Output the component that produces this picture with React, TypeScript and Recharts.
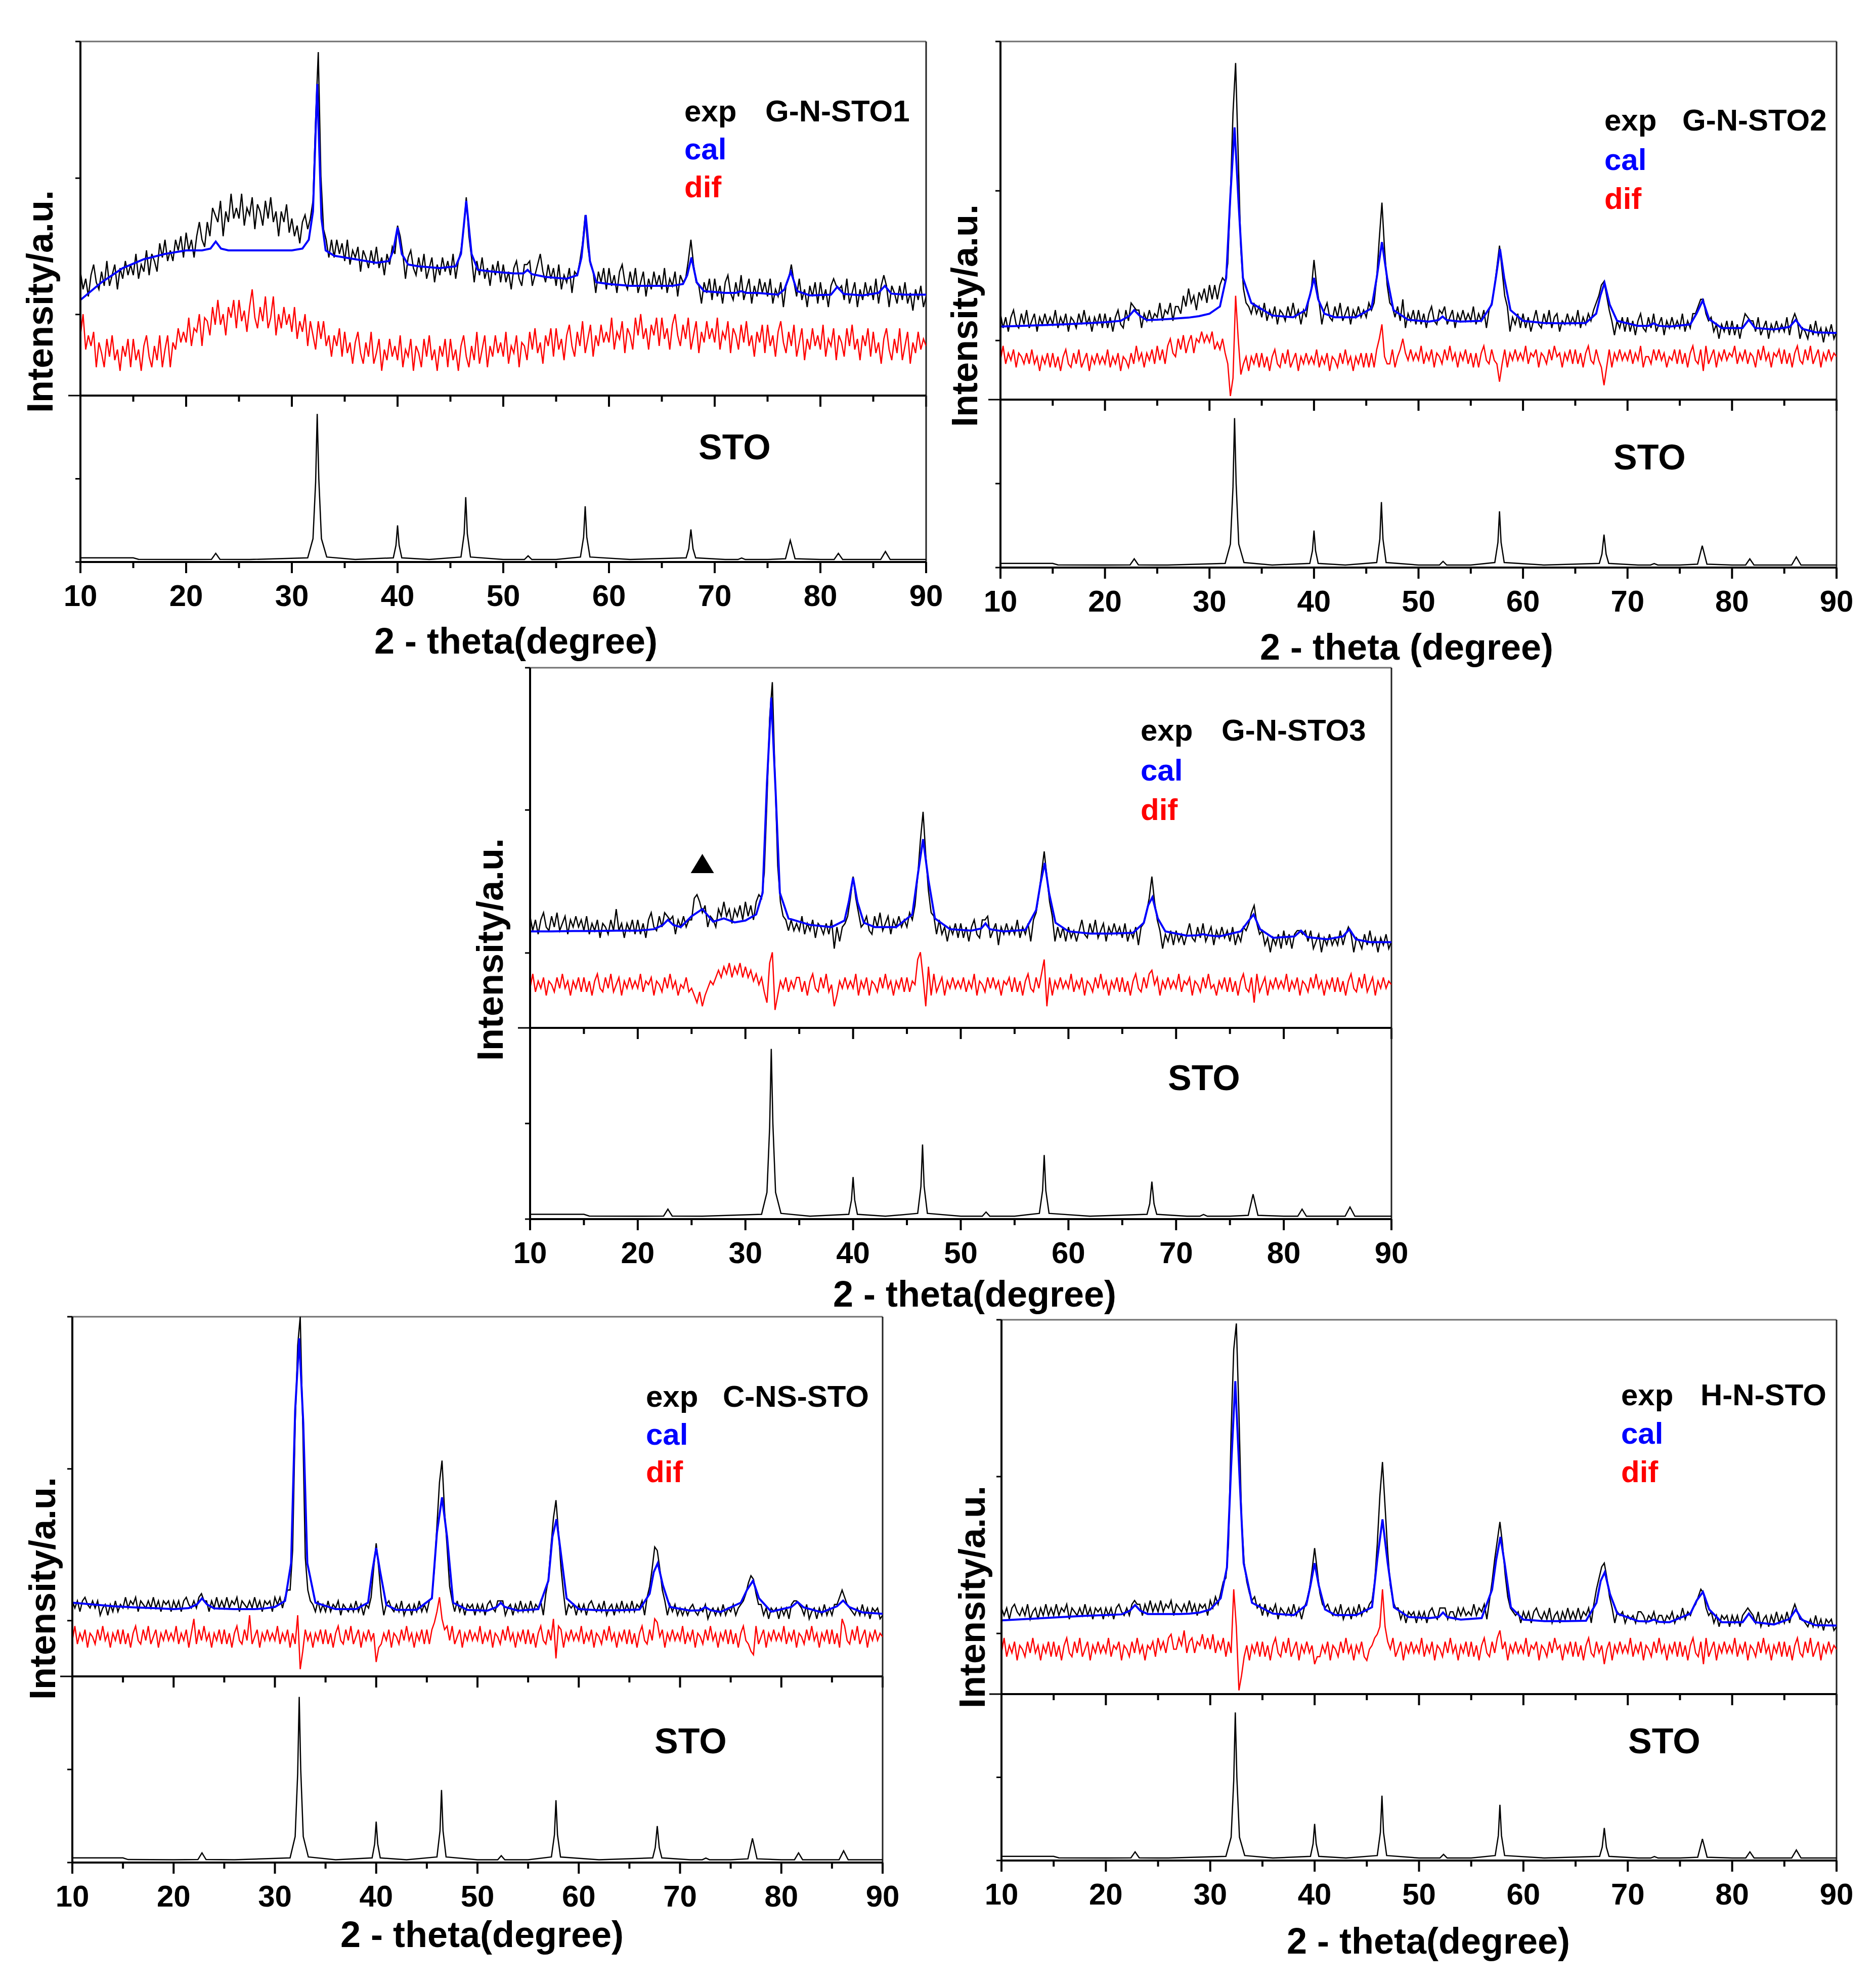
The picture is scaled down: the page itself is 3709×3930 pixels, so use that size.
import React from 'react';
import { LineChart, Line, XAxis, YAxis, ReferenceLine, ReferenceDot } from 'recharts';

const FONT = '"Liberation Sans", Arial, Helvetica, sans-serif';
const BLUE = '#0000ff';
const RED = '#ff0000';

// 2-theta nodes of the measured patterns (exp / dif): 10..90 in 0.25 deg steps
const THETA = Array.from({ length: 321 }, (_, i) => 10 + i * 0.25);

// 2-theta nodes of the calculated (Rietveld) profiles
const CAL_THETA = [
  10, 12, 14, 16, 18, 20,
  21.5, 22.3, 22.8, 23.3, 24,
  25, 26, 27, 28, 29, 30, 31,
  31.6, 32.0, 32.4, 32.8, 33.2,
  34, 36, 38,
  39.2, 39.6, 40.0, 40.4, 41,
  42, 44,
  45.5, 46.0, 46.5, 47.0, 47.6,
  49, 51,
  51.9, 52.3, 52.7,
  54, 56,
  57.0, 57.4, 57.8, 58.2, 58.8,
  60, 62, 64, 66,
  67.0, 67.4, 67.8, 68.3, 69,
  71, 72.0, 72.5, 73.0, 74,
  76, 76.6, 77.2, 77.8, 79,
  81, 81.6, 82.2,
  84, 85.5, 86.1, 86.7,
  88, 90,
];

// SrTiO3 reference pattern
const STO_THETA = [
  10, 15, 15.5, 20, 22.4, 22.8, 23.2, 26,
  31.5, 32.0, 32.25, 32.4, 32.55, 32.8, 33.3, 36,
  39.6, 39.85, 40.0, 40.15, 40.4, 43,
  46.0, 46.3, 46.45, 46.6, 46.9, 50,
  52.0, 52.35, 52.7, 55,
  57.3, 57.6, 57.75, 57.9, 58.2, 62,
  67.3, 67.55, 67.75, 67.95, 68.2, 71,
  72.2, 72.55, 72.9, 75,
  76.7, 77.15, 77.6, 80,
  81.3, 81.7, 82.1, 84,
  85.7, 86.15, 86.6, 90,
];
const STO_I = [
  2.5, 2.5, 1.6, 1.5, 1.6, 5.2, 1.6, 1.5,
  2.5, 14, 48, 89, 50, 14, 3, 1.5,
  2.5, 10, 22, 10, 2.5, 1.5,
  3, 17, 39, 17, 3, 1.5,
  1.5, 3.7, 1.5, 1.5,
  3, 15, 33.5, 15, 3, 1.5,
  2.5, 8, 19.6, 8, 2.5, 1.5,
  1.5, 2.4, 1.5, 1.5,
  2, 13, 2, 1.5,
  1.5, 5.2, 1.5, 1.5,
  1.5, 6.3, 1.5, 1.5,
];

// ---- G-N-STO1 ----
const G1_EXP = [
  35, 30, 33, 28, 34, 37, 32, 30, 35, 31, 38, 31, 34, 37, 30, 36, 33, 38, 34, 37,
  34, 40, 33, 37, 35, 41, 34, 40, 38, 35, 43, 39, 44, 38, 41, 38, 44, 41, 45, 39,
  46, 41, 44, 39, 45, 49, 44, 42, 49, 45, 53, 51, 49, 55, 45, 52, 49, 57, 50, 53,
  50, 57, 48, 53, 51, 56, 47, 54, 52, 48, 55, 50, 56, 49, 52, 45, 52, 49, 54, 46,
  50, 45, 48, 43, 49, 51, 47, 50, 55, 78, 97, 62, 47, 44, 39, 44, 39, 44, 40, 43,
  38, 44, 37, 41, 39, 42, 35, 41, 39, 36, 41, 37, 42, 36, 39, 34, 40, 37, 42, 40,
  48, 45, 40, 33, 39, 41, 36, 34, 39, 35, 40, 33, 36, 39, 32, 37, 34, 39, 35, 38,
  34, 40, 33, 38, 41, 47, 56, 45, 39, 32, 38, 34, 39, 33, 36, 31, 37, 34, 38, 32,
  37, 32, 35, 30, 36, 38, 33, 31, 37, 37, 38, 31, 34, 37, 40, 35, 32, 37, 33, 36,
  31, 37, 30, 34, 32, 36, 29, 35, 34, 38, 43, 51, 42, 37, 35, 29, 35, 32, 36, 30,
  36, 31, 34, 29, 35, 37, 32, 30, 35, 31, 36, 29, 32, 35, 28, 33, 30, 35, 31, 34,
  30, 36, 29, 33, 31, 35, 28, 34, 32, 33, 38, 44, 37, 32, 31, 26, 32, 29, 33, 27,
  33, 28, 31, 26, 32, 34, 29, 27, 32, 28, 34, 27, 30, 33, 26, 31, 28, 33, 29, 32,
  28, 33, 26, 30, 28, 32, 25, 31, 33, 37, 32, 28, 33, 27, 30, 25, 31, 28, 32, 26,
  32, 27, 30, 25, 31, 33, 31, 30, 31, 27, 33, 26, 29, 32, 25, 30, 27, 32, 28, 31,
  27, 33, 26, 31, 34, 31, 25, 31, 29, 26, 31, 27, 32, 26, 29, 24, 30, 27, 31, 25,
  28,
];
const G1_CAL = [
  27, 32, 36, 38.5, 40, 41,
  41, 41.5, 43.5, 41.5, 41,
  41, 41, 41, 41, 41, 41, 41.5,
  44, 52, 88, 50, 41,
  39.5, 38.5, 37.5,
  38, 41, 47.5, 40, 37,
  36.5, 36,
  36.5, 40, 55, 40, 35.5,
  35, 34.5,
  34.5, 35.5, 34.3,
  33.5, 33,
  34, 39, 51, 38, 32,
  31.5, 31, 31, 31,
  31.5, 34, 39, 32, 29.5,
  29, 29, 29.5, 29, 29,
  28.5, 30, 35, 29.5, 28.3,
  28.5, 30.7, 28.7,
  28.3, 29, 31, 28.8,
  28.5, 28.5,
];
const G1_DIF = [
  17, 23, 13, 17, 14, 18, 8, 15, 12, 8, 16, 11, 17, 10, 13, 7, 14, 11, 16, 8,
  16, 10, 13, 7, 14, 17, 11, 8, 14, 10, 17, 8, 13, 17, 8, 15, 13, 19, 15, 18,
  15, 22, 14, 19, 18, 23, 14, 22, 21, 17, 25, 20, 27, 20, 23, 17, 25, 22, 27, 19,
  27, 21, 24, 18, 25, 30, 22, 19, 25, 21, 28, 19, 22, 28, 17, 23, 19, 25, 20, 23,
  18, 25, 16, 21, 18, 23, 14, 21, 17, 13, 21, 16, 21, 14, 17, 11, 17, 14, 19, 11,
  18, 12, 15, 9, 15, 18, 12, 9, 15, 11, 18, 9, 12, 16, 7, 13, 10, 16, 11, 14,
  10, 17, 8, 13, 11, 16, 7, 14, 12, 8, 16, 11, 17, 10, 13, 7, 14, 11, 16, 8,
  16, 10, 13, 7, 14, 17, 11, 8, 14, 10, 18, 9, 13, 17, 8, 14, 11, 17, 12, 15,
  11, 18, 9, 14, 12, 17, 8, 15, 14, 10, 18, 13, 19, 12, 15, 9, 17, 14, 19, 11,
  19, 13, 16, 10, 17, 20, 14, 11, 18, 14, 21, 12, 16, 20, 11, 17, 14, 20, 15, 18,
  15, 22, 13, 18, 16, 21, 12, 19, 17, 13, 22, 17, 23, 16, 19, 13, 20, 17, 22, 14,
  22, 16, 19, 13, 20, 23, 17, 14, 20, 16, 22, 13, 17, 21, 12, 18, 15, 21, 16, 19,
  15, 22, 13, 18, 16, 21, 12, 19, 17, 13, 20, 15, 21, 14, 17, 11, 18, 15, 20, 12,
  20, 14, 17, 11, 18, 21, 15, 12, 18, 14, 20, 11, 15, 19, 10, 16, 13, 19, 14, 17,
  13, 20, 11, 16, 14, 19, 10, 17, 15, 11, 19, 14, 20, 13, 16, 10, 17, 14, 19, 11,
  18, 12, 15, 9, 16, 19, 13, 10, 16, 12, 19, 10, 14, 18, 9, 15, 12, 18, 13, 16,
  14,
];

// ---- G-N-STO2 ----
const G2_EXP = [
  24, 20, 23, 19, 23, 25, 21, 20, 24, 21, 25, 20, 22, 24, 19, 23, 21, 24, 21, 23,
  21, 25, 20, 23, 21, 24, 19, 23, 22, 20, 24, 21, 25, 21, 23, 19, 23, 21, 24, 20,
  24, 20, 23, 19, 23, 25, 21, 20, 25, 22, 27, 26, 25, 25, 20, 24, 22, 25, 22, 24,
  23, 27, 22, 25, 24, 27, 22, 26, 26, 24, 29, 26, 31, 27, 29, 25, 30, 28, 31, 27,
  32, 28, 32, 28, 32, 34, 33, 38, 57, 80, 94, 68, 42, 31, 27, 26, 24, 27, 24, 26,
  23, 27, 22, 25, 23, 26, 21, 25, 24, 22, 26, 23, 27, 23, 25, 21, 25, 23, 28, 31,
  39, 32, 27, 21, 25, 27, 23, 22, 26, 23, 27, 22, 24, 26, 21, 25, 23, 26, 23, 25,
  23, 27, 25, 27, 34, 45, 55, 42, 32, 27, 26, 23, 26, 22, 28, 20, 24, 22, 25, 21,
  25, 21, 24, 20, 24, 26, 22, 21, 25, 24, 26, 21, 23, 25, 20, 24, 22, 25, 22, 24,
  22, 26, 21, 24, 22, 25, 20, 25, 27, 31, 37, 43, 36, 29, 26, 19, 23, 21, 24, 20,
  24, 20, 23, 19, 22, 25, 21, 20, 24, 21, 25, 20, 23, 24, 19, 22, 21, 24, 21, 23,
  21, 25, 20, 23, 21, 24, 22, 25, 27, 29, 32, 33, 29, 25, 22, 18, 22, 20, 23, 19,
  23, 19, 22, 18, 22, 24, 20, 19, 23, 20, 24, 19, 21, 23, 18, 22, 20, 23, 20, 22,
  20, 24, 19, 22, 20, 24, 24, 26, 28, 28, 24, 22, 23, 19, 21, 17, 21, 19, 22, 18,
  22, 18, 21, 17, 21, 24, 23, 22, 22, 19, 23, 18, 20, 22, 17, 21, 19, 22, 19, 21,
  19, 23, 18, 22, 24, 22, 17, 20, 19, 17, 21, 18, 22, 18, 20, 16, 20, 18, 21, 17,
  19,
];
const G2_CAL = [
  20.4, 20.6, 20.8, 21, 21.3, 21.6,
  22, 23.3, 25, 23.5, 22.2,
  22.3, 22.5, 22.7, 22.9, 23.3, 24, 26,
  34, 57, 76, 54, 34,
  27, 23.5, 23,
  25, 29, 34, 28, 24,
  23, 23,
  25.5, 34, 44, 34, 25,
  22.3, 21.8,
  22.2, 23.2, 22.2,
  21.8, 22,
  26.5, 34, 42, 34, 25,
  22, 21.4, 21.3, 21.4,
  24, 29, 32.6, 26.5, 22,
  20.6, 20.6, 21.3, 20.6, 20.4,
  21, 24, 27.7, 22.5, 20,
  20, 22.3, 20,
  19.6, 20.3, 22.3, 19.8,
  18.8, 18.6,
];
const G2_DIF = [
  11, 15, 10, 13, 11, 14, 9, 13, 12, 10, 13, 10, 14, 10, 12, 8, 12, 10, 13, 9,
  13, 9, 12, 8, 12, 14, 10, 9, 13, 10, 14, 9, 11, 13, 8, 12, 10, 13, 10, 12,
  10, 14, 9, 12, 10, 13, 8, 12, 11, 9, 13, 10, 15, 11, 13, 9, 13, 11, 14, 10,
  15, 11, 14, 10, 15, 17, 13, 12, 17, 14, 18, 13, 16, 18, 13, 17, 16, 19, 16, 18,
  16, 19, 14, 16, 14, 17, 13, 10, 1, 6, 29, 17, 7, 10, 12, 8, 12, 10, 13, 9,
  13, 9, 12, 8, 12, 14, 10, 9, 13, 10, 14, 9, 11, 13, 8, 12, 10, 13, 10, 12,
  10, 14, 9, 12, 10, 13, 8, 12, 11, 9, 13, 10, 14, 10, 12, 8, 12, 10, 13, 9,
  13, 9, 13, 9, 14, 17, 21, 12, 10, 10, 14, 9, 12, 14, 17, 13, 11, 14, 11, 13,
  11, 15, 10, 13, 11, 14, 9, 13, 12, 10, 14, 11, 15, 11, 13, 9, 13, 11, 14, 10,
  13, 9, 13, 9, 13, 15, 11, 10, 14, 11, 10, 5, 10, 14, 9, 13, 11, 14, 11, 13,
  11, 15, 10, 13, 12, 14, 9, 13, 12, 10, 14, 11, 15, 12, 13, 9, 13, 11, 14, 10,
  14, 10, 13, 9, 13, 15, 11, 10, 14, 11, 9, 4, 9, 14, 9, 13, 11, 14, 11, 13,
  11, 14, 10, 13, 11, 15, 9, 12, 12, 10, 14, 11, 14, 11, 13, 9, 12, 11, 14, 10,
  14, 10, 13, 9, 13, 15, 11, 10, 14, 8, 15, 10, 12, 14, 9, 13, 11, 14, 11, 13,
  12, 15, 10, 13, 11, 14, 10, 13, 12, 9, 14, 11, 15, 11, 13, 9, 13, 12, 14, 10,
  14, 10, 13, 9, 13, 15, 11, 10, 14, 11, 15, 10, 12, 14, 9, 13, 11, 14, 11, 13,
  12,
];

// ---- G-N-STO3 ----
const G3_EXP = [
  31, 27, 30, 26, 30, 32, 28, 27, 31, 28, 32, 27, 29, 31, 26, 30, 28, 31, 28, 30,
  27, 31, 26, 29, 27, 30, 25, 29, 28, 26, 30, 27, 33, 27, 29, 25, 29, 27, 30, 26,
  30, 26, 29, 25, 30, 32, 28, 27, 31, 28, 32, 31, 30, 31, 26, 30, 28, 31, 28, 30,
  30, 36, 37, 35, 32, 34, 28, 31, 30, 28, 33, 31, 35, 31, 33, 29, 33, 31, 34, 30,
  35, 31, 34, 30, 35, 37, 36, 43, 63, 86, 96, 70, 45, 35, 31, 30, 27, 30, 27, 29,
  27, 31, 26, 29, 27, 30, 25, 29, 28, 26, 29, 26, 30, 22, 28, 24, 28, 29, 31, 36,
  42, 36, 32, 28, 29, 31, 27, 26, 31, 28, 32, 27, 29, 31, 26, 30, 28, 31, 28, 30,
  28, 32, 30, 34, 42, 52, 60, 48, 38, 32, 31, 26, 30, 26, 28, 24, 28, 26, 29, 25,
  29, 25, 28, 24, 28, 30, 26, 25, 30, 30, 31, 25, 27, 29, 23, 28, 26, 29, 26, 28,
  26, 30, 25, 28, 26, 29, 24, 30, 32, 37, 43, 49, 42, 35, 31, 24, 28, 25, 28, 24,
  28, 25, 27, 24, 27, 30, 26, 25, 29, 26, 30, 25, 27, 29, 24, 28, 26, 29, 26, 28,
  25, 29, 24, 27, 25, 28, 23, 28, 29, 32, 36, 42, 35, 30, 27, 22, 26, 24, 27, 23,
  27, 24, 26, 23, 26, 29, 25, 24, 28, 25, 29, 24, 26, 28, 23, 27, 25, 28, 25, 27,
  24, 28, 23, 26, 24, 28, 27, 29, 32, 34, 29, 26, 27, 23, 25, 21, 25, 23, 26, 22,
  27, 23, 26, 22, 26, 27, 27, 26, 27, 24, 27, 22, 24, 26, 21, 25, 23, 26, 23, 25,
  23, 27, 23, 26, 28, 26, 21, 25, 24, 22, 26, 23, 27, 23, 25, 21, 25, 23, 26, 22,
  24,
];
const G3_CAL = [
  26.8, 26.8, 26.9, 26.9, 27, 27,
  27.4, 28.5, 30, 28.6, 28,
  31, 33, 29.5, 30.4, 29.3, 29.8, 31.5,
  37.5, 68, 91.7, 66, 37.5,
  30.4, 28.6, 28,
  29.8, 35, 41.7, 35, 29.2,
  28, 28,
  31.5, 42.3, 52.4, 41, 30.4,
  27.4, 27,
  27.6, 29, 27.4,
  26.8, 27.2,
  32.7, 40, 45.8, 37.5, 29.2,
  26.8, 26.2, 26.2, 26.4,
  29.2, 34, 36.3, 30.4, 26.8,
  25.6, 25.7, 26, 25.7, 25.4,
  26.8, 29.2, 31.5, 27.4, 25,
  25.4, 27, 25.2,
  24.6, 25.4, 27.4, 24.6,
  23.8, 23.8,
];
const G3_DIF = [
  11, 15, 10, 13, 11, 14, 9, 13, 12, 10, 14, 11, 15, 11, 13, 9, 13, 11, 14, 10,
  14, 10, 13, 9, 13, 15, 11, 10, 14, 11, 15, 10, 12, 14, 9, 13, 11, 14, 11, 13,
  11, 15, 10, 13, 12, 14, 9, 13, 12, 10, 14, 11, 15, 11, 13, 9, 12, 11, 14, 10,
  11, 9, 7, 10, 6, 9, 11, 13, 12, 14, 16, 14, 17, 15, 18, 14, 17, 15, 18, 14,
  17, 14, 16, 13, 15, 12, 14, 10, 7, 18, 21, 5, 9, 13, 11, 14, 10, 13, 11, 14,
  14, 10, 13, 9, 13, 15, 11, 10, 14, 11, 15, 10, 12, 6, 9, 13, 11, 14, 11, 13,
  11, 15, 9, 13, 11, 14, 9, 13, 12, 10, 14, 11, 15, 11, 13, 9, 13, 11, 14, 10,
  14, 10, 13, 12, 19, 21, 14, 6, 17, 9, 15, 10, 12, 14, 9, 13, 11, 14, 11, 13,
  11, 14, 10, 13, 11, 15, 9, 13, 12, 10, 14, 11, 14, 11, 13, 9, 13, 12, 14, 10,
  14, 10, 13, 9, 13, 15, 11, 10, 14, 11, 15, 19, 6, 14, 9, 13, 11, 14, 11, 13,
  11, 15, 10, 13, 11, 14, 9, 13, 12, 10, 14, 11, 15, 11, 13, 9, 13, 11, 14, 10,
  14, 10, 13, 9, 13, 15, 11, 10, 14, 11, 15, 16, 12, 14, 9, 13, 11, 14, 11, 13,
  11, 15, 10, 13, 12, 14, 9, 13, 12, 10, 14, 11, 15, 11, 12, 9, 13, 11, 14, 10,
  14, 10, 13, 9, 13, 15, 11, 10, 14, 7, 15, 10, 12, 14, 9, 13, 11, 14, 11, 13,
  11, 15, 10, 13, 11, 14, 9, 13, 12, 10, 14, 11, 15, 11, 13, 9, 13, 11, 14, 10,
  14, 10, 13, 9, 13, 15, 11, 10, 14, 11, 15, 10, 12, 14, 9, 13, 11, 14, 11, 13,
  12,
];
// impurity reflection marked with a triangle
const G3_MARK = { t: 26, v: 45.5 };

// ---- C-NS-STO ----
const C_EXP = [
  21, 19, 21, 18, 21, 22, 20, 19, 21, 19, 21, 17, 19, 20, 17, 20, 18, 21, 18, 20,
  19, 22, 19, 21, 20, 22, 18, 21, 20, 19, 21, 19, 22, 19, 21, 18, 21, 20, 21, 18,
  21, 19, 21, 18, 21, 22, 20, 19, 21, 19, 22, 23, 21, 21, 18, 21, 19, 22, 19, 21,
  19, 22, 19, 21, 20, 22, 18, 21, 20, 19, 21, 19, 22, 19, 21, 18, 21, 20, 21, 18,
  22, 20, 22, 19, 22, 24, 24, 35, 70, 92, 100, 70, 33, 24, 21, 20, 18, 21, 18, 20,
  18, 21, 18, 20, 19, 21, 17, 20, 19, 18, 20, 18, 21, 18, 20, 17, 20, 19, 22, 30,
  37, 30, 22, 17, 20, 21, 19, 18, 20, 18, 21, 17, 19, 20, 17, 20, 18, 21, 18, 20,
  18, 21, 22, 30, 42, 54, 60, 46, 36, 25, 21, 18, 21, 18, 20, 17, 20, 19, 20, 17,
  20, 18, 20, 17, 20, 21, 19, 18, 21, 21, 21, 17, 19, 20, 17, 20, 18, 21, 18, 20,
  18, 21, 18, 20, 19, 21, 17, 23, 27, 36, 44, 49, 40, 30, 23, 17, 20, 19, 20, 17,
  20, 18, 20, 17, 20, 21, 19, 18, 20, 18, 21, 17, 19, 20, 17, 20, 18, 21, 18, 20,
  18, 21, 18, 20, 19, 21, 17, 22, 25, 30, 36, 35, 30, 24, 21, 17, 20, 18, 20, 17,
  19, 17, 19, 17, 19, 20, 18, 17, 19, 18, 20, 16, 18, 19, 17, 19, 17, 20, 17, 19,
  18, 20, 17, 19, 20, 21, 23, 26, 28, 27, 23, 20, 20, 17, 19, 16, 19, 18, 19, 16,
  19, 17, 19, 16, 20, 21, 21, 20, 19, 17, 20, 16, 18, 19, 16, 19, 17, 20, 17, 19,
  17, 20, 20, 22, 24, 22, 20, 19, 18, 17, 19, 17, 20, 17, 19, 16, 19, 18, 19, 16,
  17,
];
const C_CAL = [
  20.5, 20, 19.5, 19.2, 19, 18.7,
  19, 20, 21.7, 20, 18.9,
  18.8, 18.7, 18.7, 18.7, 18.9, 19.3, 21,
  31.5, 74, 94, 70.5, 31.5,
  20.5, 18.7, 18.7,
  20.5, 29, 35.7, 29, 19.9,
  18.5, 18.5,
  21.7, 40, 49.8, 38.8, 20.5,
  18.5, 18.3,
  19.3, 20.5, 19.3,
  18.3, 18.7,
  26.6, 38.8, 43.7, 35, 21.7,
  18.7, 18.4, 18.4, 18.6,
  23, 29, 31.5, 25.4, 19.3,
  18.3, 18.4, 19.3, 18.4, 17.9,
  20.5, 24, 26.6, 21.7, 18,
  19.3, 20.7, 19.2,
  17.8, 19.5, 21.1, 19.3,
  17.8, 17.4,
];
const C_DIF = [
  10, 14, 9, 12, 10, 13, 8, 12, 11, 9, 13, 10, 14, 10, 12, 8, 12, 10, 13, 9,
  13, 9, 12, 8, 12, 14, 10, 9, 13, 10, 14, 9, 11, 13, 8, 12, 10, 13, 10, 12,
  10, 14, 9, 12, 10, 13, 8, 12, 16, 9, 13, 10, 14, 10, 12, 8, 12, 10, 13, 9,
  13, 9, 12, 8, 12, 14, 10, 9, 13, 10, 17, 9, 11, 13, 8, 12, 10, 13, 10, 12,
  10, 14, 9, 12, 10, 13, 8, 12, 9, 17, 2, 7, 13, 10, 12, 8, 12, 10, 13, 9,
  13, 9, 12, 8, 12, 14, 10, 9, 13, 10, 14, 9, 11, 13, 8, 12, 10, 13, 10, 12,
  4, 8, 9, 12, 10, 13, 8, 12, 11, 9, 13, 10, 14, 10, 12, 8, 12, 10, 13, 9,
  13, 9, 13, 15, 18, 22, 16, 13, 14, 10, 14, 9, 11, 13, 8, 12, 10, 13, 10, 12,
  10, 14, 9, 12, 10, 13, 8, 12, 11, 9, 13, 10, 14, 10, 12, 8, 12, 10, 13, 9,
  13, 9, 12, 8, 12, 14, 10, 9, 13, 10, 16, 5, 14, 13, 8, 12, 10, 13, 10, 12,
  10, 14, 9, 12, 10, 13, 8, 12, 11, 9, 13, 10, 14, 10, 12, 8, 12, 10, 13, 9,
  13, 9, 12, 8, 12, 14, 10, 9, 13, 10, 16, 15, 11, 13, 8, 12, 10, 13, 10, 12,
  10, 14, 9, 12, 10, 13, 8, 12, 11, 9, 13, 10, 14, 10, 12, 8, 12, 10, 13, 9,
  13, 9, 12, 8, 12, 14, 10, 9, 7, 6, 14, 9, 11, 13, 8, 12, 10, 13, 10, 12,
  10, 14, 9, 12, 10, 13, 8, 12, 11, 9, 13, 10, 14, 10, 12, 8, 12, 10, 13, 9,
  13, 9, 12, 8, 16, 14, 10, 9, 13, 10, 14, 9, 11, 13, 8, 12, 10, 13, 10, 12,
  11,
];

// ---- H-N-STO ----
const H_EXP = [
  23, 21, 23, 20, 23, 24, 22, 21, 23, 21, 24, 20, 22, 23, 20, 23, 21, 24, 21, 23,
  21, 24, 21, 23, 22, 24, 20, 23, 22, 21, 23, 21, 24, 21, 23, 20, 23, 22, 23, 20,
  23, 21, 23, 20, 23, 24, 22, 21, 23, 21, 24, 25, 24, 24, 21, 24, 22, 25, 22, 24,
  22, 25, 22, 24, 23, 25, 21, 24, 23, 22, 24, 22, 25, 22, 24, 21, 24, 23, 24, 21,
  25, 23, 26, 24, 27, 30, 31, 40, 70, 92, 99, 75, 47, 35, 30, 27, 25, 26, 23, 24,
  21, 24, 21, 23, 22, 24, 20, 23, 22, 21, 23, 21, 24, 21, 23, 20, 23, 25, 28, 33,
  39, 33, 27, 24, 23, 24, 22, 21, 23, 21, 24, 20, 22, 23, 20, 23, 21, 24, 21, 23,
  22, 24, 25, 30, 40, 53, 62, 50, 38, 29, 25, 23, 23, 20, 22, 19, 22, 21, 22, 19,
  22, 20, 22, 19, 22, 23, 21, 20, 23, 23, 23, 20, 22, 22, 20, 23, 21, 23, 21, 22,
  21, 24, 21, 23, 22, 24, 20, 25, 30, 36, 41, 46, 40, 32, 26, 23, 22, 21, 22, 19,
  22, 20, 22, 19, 22, 23, 21, 20, 22, 20, 23, 19, 21, 22, 19, 22, 20, 23, 20, 22,
  20, 23, 20, 22, 21, 23, 19, 24, 28, 31, 34, 35, 31, 26, 23, 19, 22, 21, 22, 19,
  21, 20, 21, 19, 22, 22, 21, 19, 21, 20, 22, 19, 21, 21, 19, 21, 20, 22, 19, 21,
  20, 23, 20, 22, 21, 23, 24, 26, 28, 27, 23, 21, 22, 19, 21, 18, 21, 20, 21, 18,
  21, 19, 21, 18, 21, 22, 23, 22, 21, 19, 22, 18, 20, 21, 18, 21, 19, 22, 19, 21,
  19, 22, 19, 22, 24, 22, 20, 20, 19, 18, 20, 18, 21, 18, 20, 17, 20, 19, 20, 17,
  18,
];
const H_CAL = [
  19.7, 20, 20.3, 20.6, 20.9, 21.1,
  21.3, 22.3, 23.8, 22.3, 21.4,
  21.4, 21.4, 21.4, 21.5, 21.8, 22.6, 25.6,
  33.8, 60.7, 83.6, 58.4, 35,
  24.4, 21.5, 21.1,
  23.8, 29, 35, 29, 22.6,
  21.1, 21.1,
  23.2, 36, 46.7, 35, 23.2,
  20.6, 20.3,
  20.6, 21.8, 20.6,
  19.9, 20.3,
  27.9, 36, 42, 35, 23.2,
  19.9, 19.5, 19.5, 19.6,
  24.4, 30.2, 32.6, 26.7, 21.5,
  19.5, 19.4, 19.9, 19.3, 19.2,
  21.5, 25, 27.3, 22.6, 19.2,
  19.2, 21.5, 19.2,
  18.6, 20.1, 22.6, 19.8,
  18.4, 18.3,
];
const H_DIF = [
  11, 15, 10, 13, 11, 14, 9, 13, 12, 10, 14, 11, 15, 11, 13, 9, 13, 11, 14, 10,
  14, 10, 13, 9, 13, 15, 11, 10, 14, 11, 15, 10, 12, 14, 9, 13, 11, 14, 11, 13,
  11, 15, 10, 13, 12, 14, 9, 13, 12, 10, 14, 11, 15, 11, 13, 9, 13, 12, 14, 10,
  15, 12, 14, 11, 15, 16, 12, 12, 15, 13, 17, 11, 14, 15, 11, 14, 13, 16, 12, 15,
  12, 16, 11, 14, 12, 15, 10, 14, 11, 28, 18, 1, 5, 10, 13, 9, 13, 11, 14, 10,
  14, 10, 13, 9, 13, 15, 11, 10, 14, 11, 15, 10, 12, 14, 9, 13, 11, 14, 11, 13,
  8, 10, 10, 13, 11, 14, 9, 13, 12, 10, 14, 11, 15, 11, 13, 9, 13, 11, 14, 10,
  9, 12, 13, 15, 16, 18, 28, 18, 14, 12, 15, 10, 12, 14, 9, 13, 11, 14, 11, 13,
  11, 15, 10, 13, 11, 14, 9, 13, 12, 10, 14, 11, 15, 11, 13, 9, 13, 11, 14, 10,
  14, 10, 13, 9, 13, 15, 11, 10, 14, 11, 15, 17, 12, 14, 9, 13, 11, 14, 11, 13,
  11, 15, 10, 13, 12, 14, 9, 13, 12, 10, 14, 11, 15, 12, 13, 9, 13, 11, 14, 10,
  14, 10, 13, 9, 13, 15, 11, 10, 14, 11, 13, 8, 12, 14, 9, 13, 11, 14, 11, 13,
  11, 15, 10, 13, 11, 14, 9, 13, 12, 10, 14, 11, 15, 11, 13, 9, 13, 11, 14, 10,
  14, 10, 13, 9, 13, 15, 11, 10, 14, 8, 15, 10, 12, 14, 9, 13, 11, 14, 11, 13,
  11, 15, 10, 13, 11, 14, 9, 13, 12, 10, 14, 11, 15, 11, 13, 9, 13, 11, 14, 10,
  14, 10, 13, 9, 13, 15, 11, 10, 14, 11, 15, 10, 12, 14, 9, 13, 11, 14, 11, 13,
  12,
];

const X_TICKS = [10, 15, 20, 25, 30, 35, 40, 45, 50, 55, 60, 65, 70, 75, 80, 85, 90];
const STO_TICKS = [0, 50, 100];

type Pt = { t: number; v: number };
const zip = (xs: number[], ys: number[]): Pt[] => xs.map((t, i) => ({ t, v: ys[i] }));

interface Panel {
  title: string;
  exp: number[];
  cal: number[];
  dif: number[];
  topTicks: number[];
  mark?: Pt;
  // layout (page pixels)
  left: number;
  right: number;
  top: number;
  mid: number;
  bottom: number;
  legX: number;
  legY: number[];
  titleX: number;
  stoX: number;
  stoY: number;
  yLabX: number;
  yLabY: number;
  xLabX: number;
  xLabY: number;
  xLabel: string;
}

const PANELS: Panel[] = [
  {
    title: 'G-N-STO1', exp: G1_EXP, cal: G1_CAL, dif: G1_DIF, topTicks: [22.9, 61.4, 100],
    left: 159, right: 1831, top: 82, mid: 782, bottom: 1111,
    legX: 1353, legY: [240, 315, 390], titleX: 1513, stoX: 1381, stoY: 908,
    yLabX: 104, yLabY: 596, xLabX: 1020, xLabY: 1292, xLabel: '2 - theta(degree)',
  },
  {
    title: 'G-N-STO2', exp: G2_EXP, cal: G2_CAL, dif: G2_DIF, topTicks: [16.5, 58.3, 100],
    left: 1978, right: 3631, top: 82, mid: 790, bottom: 1122,
    legX: 3172, legY: [258, 336, 413], titleX: 3326, stoX: 3190, stoY: 928,
    yLabX: 1932, yLabY: 624, xLabX: 2781, xLabY: 1304, xLabel: '2 - theta (degree)',
  },
  {
    title: 'G-N-STO3', exp: G3_EXP, cal: G3_CAL, dif: G3_DIF, topTicks: [20.8, 60.5, 100], mark: G3_MARK,
    left: 1048, right: 2751, top: 1320, mid: 2032, bottom: 2410,
    legX: 2255, legY: [1464, 1543, 1621], titleX: 2415, stoX: 2309, stoY: 2155,
    yLabX: 994, yLabY: 1877, xLabX: 1927, xLabY: 2583, xLabel: '2 - theta(degree)',
  },
  {
    title: 'C-NS-STO', exp: C_EXP, cal: C_CAL, dif: C_DIF, topTicks: [15.5, 57.7, 100],
    left: 143, right: 1745, top: 2603, mid: 3314, bottom: 3682,
    legX: 1277, legY: [2781, 2856, 2930], titleX: 1429, stoX: 1294, stoY: 3466,
    yLabX: 109, yLabY: 3140, xLabX: 953, xLabY: 3849, xLabel: '2 - theta(degree)',
  },
  {
    title: 'H-N-STO', exp: H_EXP, cal: H_CAL, dif: H_DIF, topTicks: [16.2, 58.1, 100],
    left: 1980, right: 3631, top: 2609, mid: 3349, bottom: 3678,
    legX: 3205, legY: [2778, 2854, 2930], titleX: 3362, stoX: 3219, stoY: 3466,
    yLabX: 1947, yLabY: 3157, xLabX: 2824, xLabY: 3862, xLabel: '2 - theta(degree)',
  },
];

const Y_W = 40;
const PAD_T = 10;
const PAD_R = 50;
const AXIS_LINE = { stroke: '#000', strokeWidth: 4 };

const xTick = (withLabel: boolean) => (props: any) => {
  const { x, y, payload } = props;
  const major = payload.value % 10 === 0;
  return (
    <g>
      <line x1={x} x2={x} y1={y} y2={y + (major ? 22 : 12)} stroke="#000" strokeWidth={4} />
      {withLabel && major && (
        <text x={x} y={y + 87} textAnchor="middle" fontFamily={FONT} fontWeight="bold" fontSize={60} fill="#000">
          {payload.value}
        </text>
      )}
    </g>
  );
};

const yTick = (longAt: number | null) => (props: any) => {
  const { x, y, payload } = props;
  const len = payload.value === longAt ? 24 : 10;
  return <line x1={x - len} x2={x} y1={y} y2={y} stroke="#000" strokeWidth={3} />;
};

const triangle = (props: any) => {
  const { cx, cy } = props;
  return <polygon points={`${cx},${cy - 20} ${cx - 23},${cy + 18} ${cx + 23},${cy + 18}`} fill="#000" />;
};

function TopPlot({ p }: { p: Panel }) {
  const w = p.right - p.left;
  const h = p.mid - p.top;
  return (
    <div style={{ position: 'absolute', left: p.left - Y_W, top: p.top - PAD_T }}>
      <LineChart width={w + Y_W + PAD_R} height={h + PAD_T + 40} margin={{ top: PAD_T, right: PAD_R, bottom: 0, left: 0 }}>
        <XAxis type="number" dataKey="t" domain={[10, 90]} ticks={X_TICKS} interval={0} height={40}
          tickLine={false} tickSize={0} tickMargin={0} tick={xTick(false)} axisLine={AXIS_LINE} allowDataOverflow />
        <YAxis type="number" domain={[0, 100]} ticks={p.topTicks} width={Y_W} interval={0}
          tickLine={false} tickSize={0} tickMargin={0} tick={yTick(null)} axisLine={AXIS_LINE} allowDataOverflow />
        <ReferenceLine y={100} stroke="#707070" strokeWidth={3} />
        <ReferenceLine x={90} stroke="#222" strokeWidth={3} />
        <Line data={zip(THETA, p.exp)} dataKey="v" type="linear" stroke="#000" strokeWidth={2.5} dot={false} isAnimationActive={false} />
        <Line data={zip(CAL_THETA, p.cal)} dataKey="v" type="linear" stroke={BLUE} strokeWidth={4} dot={false} isAnimationActive={false} />
        <Line data={zip(THETA, p.dif)} dataKey="v" type="linear" stroke={RED} strokeWidth={2.5} dot={false} isAnimationActive={false} />
        {p.mark && <ReferenceDot x={p.mark.t} y={p.mark.v} r={20} shape={triangle} />}
      </LineChart>
    </div>
  );
}

function StoPlot({ p }: { p: Panel }) {
  const w = p.right - p.left;
  const h = p.bottom - p.mid;
  return (
    <div style={{ position: 'absolute', left: p.left - Y_W, top: p.mid - PAD_T }}>
      <LineChart width={w + Y_W + PAD_R} height={h + PAD_T + 130} margin={{ top: PAD_T, right: PAD_R, bottom: 0, left: 0 }}>
        <XAxis type="number" dataKey="t" domain={[10, 90]} ticks={X_TICKS} interval={0} height={130}
          tickLine={false} tickSize={0} tickMargin={0} tick={xTick(true)} axisLine={AXIS_LINE} allowDataOverflow />
        <YAxis type="number" domain={[0, 100]} ticks={STO_TICKS} width={Y_W} interval={0}
          tickLine={false} tickSize={0} tickMargin={0} tick={yTick(100)} axisLine={AXIS_LINE} allowDataOverflow />
        <ReferenceLine x={90} stroke="#222" strokeWidth={3} />
        <Line data={zip(STO_THETA, STO_I)} dataKey="v" type="linear" stroke="#000" strokeWidth={2.5} dot={false} isAnimationActive={false} />
      </LineChart>
    </div>
  );
}

function PanelText({ p }: { p: Panel }) {
  return (
    <g fontFamily={FONT} fontWeight="bold">
      <text x={p.legX} y={p.legY[0]} fontSize={60} fill="#000">exp</text>
      <text x={p.titleX} y={p.legY[0]} fontSize={60} fill="#000">{p.title}</text>
      <text x={p.legX} y={p.legY[1]} fontSize={60} fill={BLUE}>cal</text>
      <text x={p.legX} y={p.legY[2]} fontSize={60} fill={RED}>dif</text>
      <text x={p.stoX} y={p.stoY} fontSize={70} fill="#000">STO</text>
      <text transform={`translate(${p.yLabX},${p.yLabY}) rotate(-90)`} textAnchor="middle" fontSize={72} fill="#000">
        Intensity/a.u.
      </text>
      <text x={p.xLabX} y={p.xLabY} textAnchor="middle" fontSize={72} fill="#000">{p.xLabel}</text>
    </g>
  );
}

export default function App() {
  return (
    <div style={{ position: 'absolute', left: 0, top: 0, width: 3709, height: 3930, background: '#fff', overflow: 'hidden' }}>
      {PANELS.map((p) => (
        <React.Fragment key={p.title}>
          <TopPlot p={p} />
          <StoPlot p={p} />
        </React.Fragment>
      ))}
      <svg width={3709} height={3930} style={{ position: 'absolute', left: 0, top: 0, pointerEvents: 'none' }}>
        {PANELS.map((p) => (
          <PanelText key={p.title} p={p} />
        ))}
      </svg>
    </div>
  );
}
